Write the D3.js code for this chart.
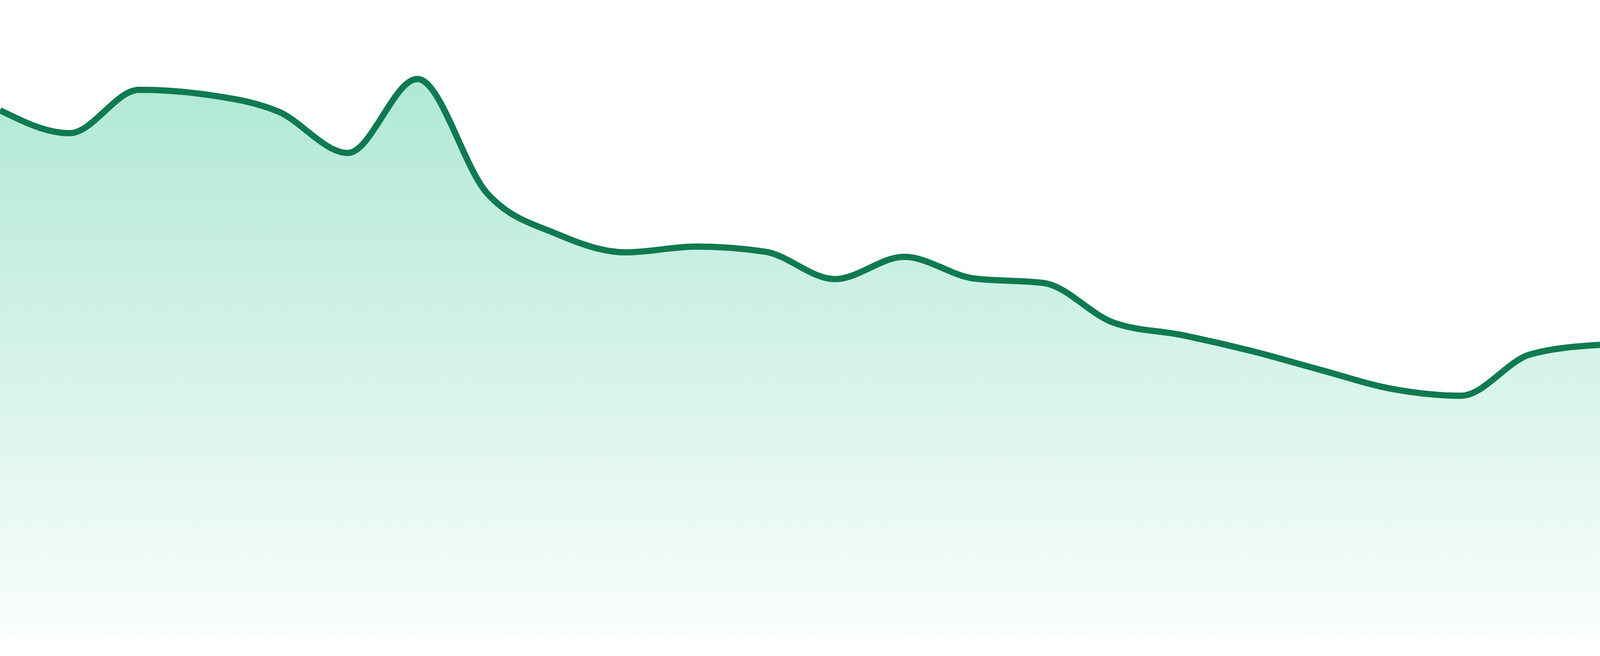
<!DOCTYPE html>
<html>
<head>
<meta charset="utf-8">
<script src="https://cdn.jsdelivr.net/npm/d3@7"></script>
<style>
  html, body { margin: 0; padding: 0; background: #fff; overflow: hidden; }
  svg { display: block; }
</style>
</head>
<body>
<script>
// one value per period
const periods = d3.range(24);
const values = [
  82.7, 79.1, 85.9, 85.1, 82.5, 76.0, 87.6, 69.7, 63.3, 60.4, 61.3, 60.5,
  56.2, 59.7, 56.3, 55.6, 49.4, 47.4, 44.9, 41.9, 39.0, 37.9, 44.4, 45.9
];

// fill whatever window we get; the reference was 4800 x 1680
const
  w = window.innerWidth || 4800,
  h = window.innerHeight || 1680,
  ky = h / 1680,
  bottom = h - 48 * ky,
  svg = d3.select('body').append('svg')
    .attr('width', w)
    .attr('height', h);

const x = d3.scalePoint().domain(periods).range([0, w]);
const y = d3.scaleLinear().domain([0, 100]).range([bottom, bottom - 1632 * ky]);

const defs = svg.append('defs');
const grad = defs.append('linearGradient')
  .attr('id', 'fillGrad')
  .attr('gradientUnits', 'userSpaceOnUse')
  .attr('x1', 0).attr('x2', 0)
  .attr('y1', y(d3.max(values))).attr('y2', bottom);
grad.append('stop').attr('offset', '0%').attr('stop-color', '#10b981').attr('stop-opacity', 0.33);
grad.append('stop').attr('offset', '100%').attr('stop-color', '#10b981').attr('stop-opacity', 0.02);

const area = d3.area()
  .x((d, i) => x(periods[i]))
  .y0(bottom)
  .y1(d => y(d))
  .curve(d3.curveMonotoneX);

const line = d3.line()
  .x((d, i) => x(periods[i]))
  .y(d => y(d))
  .curve(d3.curveMonotoneX);

svg.append('path')
  .attr('d', area(values))
  .attr('fill', 'url(#fillGrad)');

svg.append('path')
  .attr('d', line(values))
  .attr('fill', 'none')
  .attr('stroke', '#0f7a50')
  .attr('stroke-width', 16 * ky);
</script>
</body>
</html>
